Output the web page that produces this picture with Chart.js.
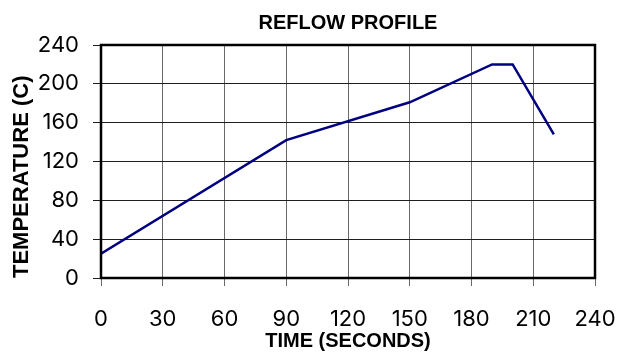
<!DOCTYPE html>
<html>
<head>
<meta charset="utf-8">
<script src="https://cdn.jsdelivr.net/npm/chart.js@4/dist/chart.umd.min.js"></script>
<style>
  html, body { margin: 0; padding: 0; background: #ffffff; }
  #wrap { width: 631px; height: 353px; position: relative; }
</style>
</head>
<body>
<div id="wrap"><canvas id="c" width="631" height="353"></canvas></div>
<script>
// Reflow oven temperature profile
const timeSeconds = [0, 90, 150, 190, 200, 220];
const temperatureC = [25, 142, 181, 220, 220, 148];
const xTicks = [0, 30, 60, 90, 120, 150, 180, 210, 240];
const yTicks = [0, 40, 80, 120, 160, 200, 240];

const points = timeSeconds.map((t, i) => ({ x: t, y: temperatureC[i] }));

const TICK_FONT = 'Inter';
const TITLE_FONT = 'Liberation Sans';

// Heavy black frame around the plot area
const framePlugin = {
  id: 'frame',
  afterDraw(chart) {
    const a = chart.chartArea;
    const ctx = chart.ctx;
    ctx.save();
    ctx.strokeStyle = '#000000';
    ctx.lineWidth = 2.5;
    ctx.strokeRect(a.left, a.top, a.right - a.left, a.bottom - a.top);
    ctx.restore();
  }
};

new Chart(document.getElementById('c'), {
  type: 'scatter',
  data: {
    datasets: [{
      data: points,
      showLine: true,
      borderColor: '#000080',
      backgroundColor: '#000080',
      borderWidth: 2.5,
      pointRadius: 0,
      tension: 0
    }]
  },
  options: {
    responsive: false,
    animation: false,
    layout: { padding: { left: 0, right: 36, top: 0, bottom: 0 } },
    plugins: {
      legend: { display: false },
      tooltip: { enabled: false },
      title: {
        display: true,
        text: 'REFLOW PROFILE',
        fullSize: false,
        color: '#000000',
        font: { family: TITLE_FONT, size: 20, weight: 'bold' },
        padding: { top: 11.5, bottom: 9.5 }
      }
    },
    scales: {
      x: {
        type: 'linear',
        min: 0,
        max: 240,
        afterBuildTicks(scale) { scale.ticks = xTicks.map(v => ({ value: v })); },
        afterFit(scale) {
          scale.height = 75;
          scale.paddingLeft = 0;
          scale.paddingRight = 0;
        },
        grid: { color: '#6a6a6a', lineWidth: 1, tickLength: 8, drawTicks: true },
        border: { display: false },
        ticks: {
          color: '#000000',
          padding: 20,
          maxRotation: 0,
          font: { family: TICK_FONT, size: 22 }
        },
        title: {
          display: true,
          text: 'TIME (SECONDS)',
          color: '#000000',
          font: { family: TITLE_FONT, size: 20, weight: 'bold' },
          padding: { top: 0, bottom: 0 }
        }
      },
      y: {
        type: 'linear',
        min: 0,
        max: 240,
        afterBuildTicks(scale) { scale.ticks = yTicks.map(v => ({ value: v })); },
        afterFit(scale) {
          scale.width = 101;
          scale.paddingTop = 0;
          scale.paddingBottom = 0;
        },
        grid: { color: '#1e1e1e', lineWidth: 1, tickLength: 8, drawTicks: true },
        border: { display: false },
        ticks: {
          color: '#000000',
          padding: 14,
          font: { family: TICK_FONT, size: 22 }
        },
        title: {
          display: true,
          text: 'TEMPERATURE (C)',
          align: 'start',
          color: '#000000',
          font: { family: TITLE_FONT, size: 22, weight: 'bold' },
          padding: { top: 8.3, bottom: 0 }
        }
      }
    }
  },
  plugins: [framePlugin]
});
</script>
</body>
</html>
